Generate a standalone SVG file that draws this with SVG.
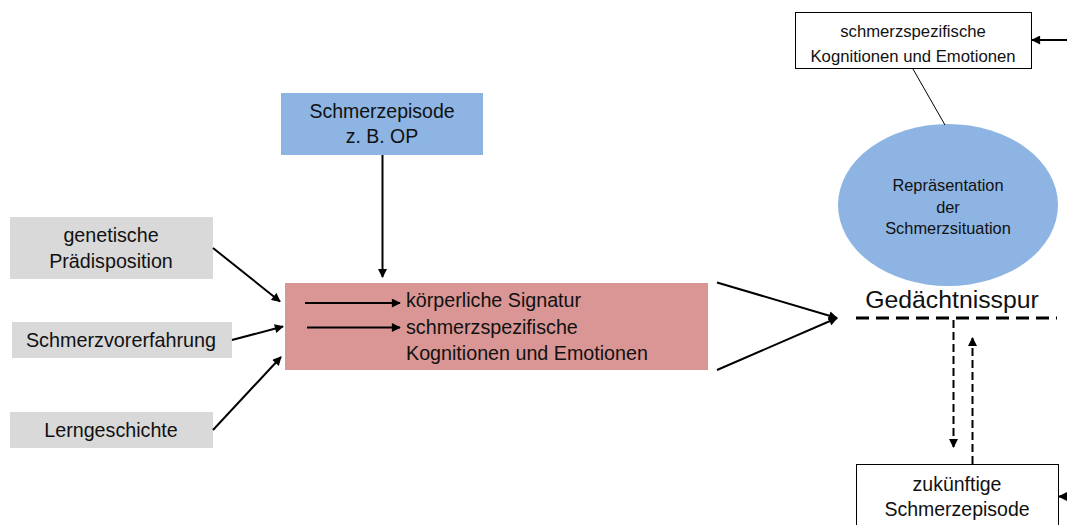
<svg xmlns="http://www.w3.org/2000/svg" width="1067" height="525" viewBox="0 0 1067 525">
<style>
text{font-family:"Liberation Sans",Arial,sans-serif;fill:#111;}
.c{text-anchor:middle;}
.gray{fill:#d9d9d9;}
.blue{fill:#8db4e2;}
.pink{fill:#d99694;}
.wbox{fill:#fff;stroke:#000;stroke-width:1;}
.ar{stroke:#000;stroke-width:2;fill:none;marker-end:url(#ah);}
.dl{stroke:#000;stroke-width:2;fill:none;stroke-dasharray:8 4;marker-end:url(#ah);}
</style>
<defs>
<marker id="ah" viewBox="0 0 10 10" refX="9" refY="5" markerWidth="10" markerHeight="9" markerUnits="userSpaceOnUse" orient="auto">
<path d="M0,0 L10,5 L0,10 z" fill="#000"/>
</marker>
</defs>
<rect width="1067" height="525" fill="#fff"/>

<g id="node-genetisch">
<rect class="gray" x="10" y="217" width="203" height="62"/>
<text class="c" x="111" y="242" font-size="19.7">genetische</text>
<text class="c" x="111" y="268" font-size="19.7">Prädisposition</text>
</g>
<g id="node-vorerfahrung">
<rect class="gray" x="12" y="322" width="220" height="36"/>
<text class="c" x="121" y="347" font-size="19.8">Schmerzvorerfahrung</text>
</g>
<g id="node-lerngeschichte">
<rect class="gray" x="10" y="412" width="203" height="36"/>
<text class="c" x="111" y="437" font-size="19.7">Lerngeschichte</text>
</g>
<g id="node-schmerzepisode">
<rect class="blue" x="281" y="93" width="202" height="62"/>
<text class="c" x="382" y="118" font-size="19.5">Schmerzepisode</text>
<text class="c" x="382" y="143" font-size="19.5">z. B. OP</text>
</g>
<g id="node-signatur">
<rect class="pink" x="285" y="283" width="423" height="87"/>
<line x1="305" y1="303" x2="400" y2="303" stroke="#000" stroke-width="2" marker-end="url(#ah)"/>
<line x1="307" y1="327.5" x2="400" y2="327.5" stroke="#000" stroke-width="2" marker-end="url(#ah)"/>
<text x="406" y="307" font-size="19.7">körperliche Signatur</text>
<text x="406" y="334" font-size="19.7">schmerzspezifische</text>
<text x="406" y="360" font-size="19.7">Kognitionen und Emotionen</text>
</g>
<g id="node-kognitionen">
<rect class="wbox" x="795.5" y="12.5" width="236" height="56"/>
<text class="c" x="913" y="37" font-size="16.7">schmerzspezifische</text>
<text class="c" x="913" y="62" font-size="16.7">Kognitionen und Emotionen</text>
</g>
<g id="node-repraesentation">
<ellipse class="blue" cx="948" cy="205" rx="110" ry="81"/>
<text class="c" x="948" y="191" font-size="16.4">Repräsentation</text>
<text class="c" x="948" y="213" font-size="16.4">der</text>
<text class="c" x="948" y="234" font-size="16.4">Schmerzsituation</text>
</g>
<g id="node-gedaechtnisspur">
<text class="c" x="952" y="308" font-size="24.8">Gedächtnisspur</text>
<line x1="856" y1="318" x2="1057" y2="318" stroke="#000" stroke-width="3" stroke-dasharray="13 7"/>
</g>
<g id="node-zukuenftig">
<rect class="wbox" x="856.5" y="464.5" width="202" height="70"/>
<text class="c" x="957" y="491" font-size="19.5">zukünftige</text>
<text class="c" x="957" y="516" font-size="19.5">Schmerzepisode</text>
</g>

<g id="connectors">
<line class="ar" x1="213" y1="248" x2="280" y2="301.5"/>
<line class="ar" x1="232" y1="340" x2="283" y2="326.5"/>
<line class="ar" x1="213" y1="430" x2="281" y2="357"/>
<line class="ar" x1="382.5" y1="155" x2="382.5" y2="277"/>
<line class="ar" x1="717" y1="282.5" x2="837" y2="318"/>
<line class="ar" x1="717" y1="370" x2="837" y2="318"/>
<line x1="913" y1="69" x2="945" y2="125" stroke="#000" stroke-width="1"/>
<line class="ar" x1="1067" y1="40" x2="1032" y2="40"/>
<line class="ar" x1="1067" y1="496.5" x2="1059" y2="496.5"/>
<line class="dl" x1="953.5" y1="320" x2="953.5" y2="447"/>
<line class="dl" x1="972.5" y1="464" x2="972.5" y2="338"/>
</g>
</svg>
